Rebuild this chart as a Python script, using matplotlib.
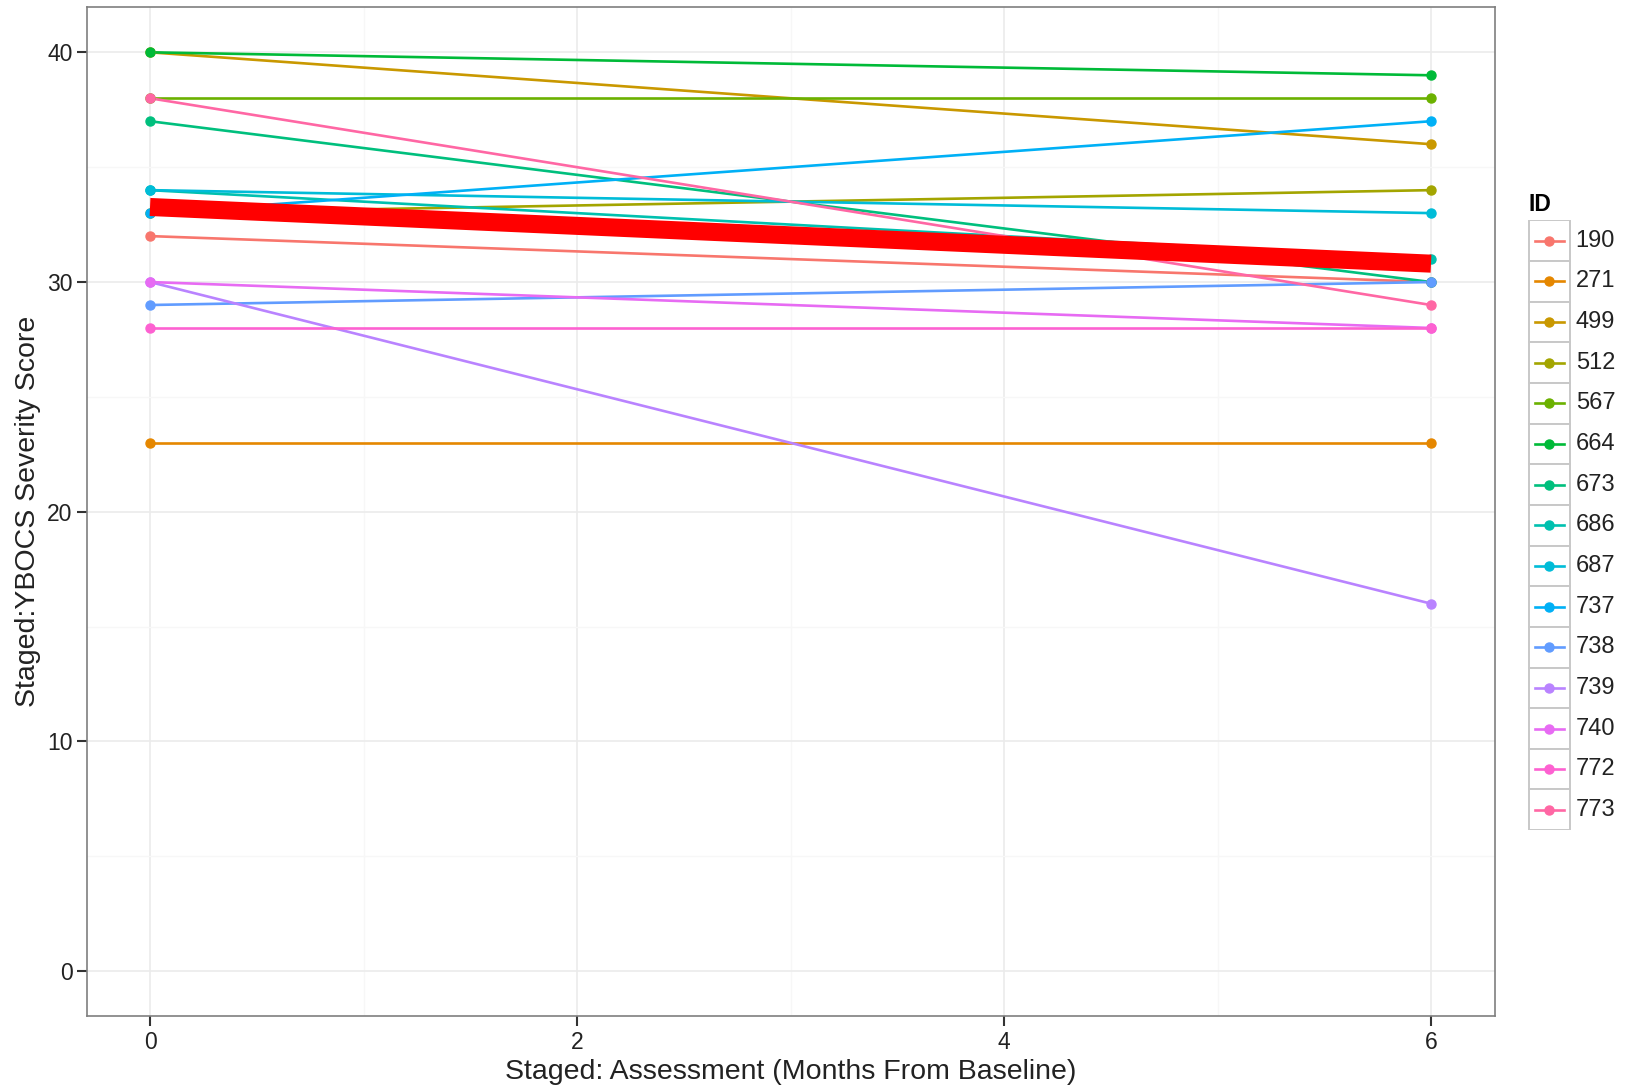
import numpy as np
import matplotlib.pyplot as plt
from matplotlib.lines import Line2D
from matplotlib.patches import Rectangle

plt.rcParams['font.family'] = ['Liberation Sans', 'DejaVu Sans']

# subjects and their scores at baseline (0) and 6 months
ids = ['190', '271', '499', '512', '567', '664', '673', '686', '687',
       '737', '738', '739', '740', '772', '773']
months = [0, 6]
score_0 = [32, 23, 40, 33, 38, 40, 37, 34, 34, 33, 29, 30, 30, 28, 38]
score_6 = [30, 23, 36, 34, 38, 39, 30, 31, 33, 37, 30, 16, 28, 28, 29]

# ggplot hue palette for 15 groups
colors = ['#F8766D', '#E58700', '#C99800', '#A3A500', '#6BB100',
          '#00BA38', '#00BF7D', '#00C0AF', '#00BCD8', '#00B0F6',
          '#619CFF', '#B983FF', '#E76BF3', '#FD61D1', '#FF67A4']

fig = plt.figure(figsize=(16.27, 10.87), dpi=100)
ax = fig.add_axes([0.0535, 0.0653, 0.8654, 0.928])

# lines first, then points (like geom_line + geom_point)
for i in range(len(ids)):
    ax.plot(months, [score_0[i], score_6[i]], color=colors[i], lw=1.9,
            zorder=3)
for i in range(len(ids)):
    ax.plot(months, [score_0[i], score_6[i]], 'o', color=colors[i], ms=6.5,
            zorder=4)

# thick red line through group means
mean_line = [np.mean(score_0), np.mean(score_6)]
ax.plot(months, mean_line, color='#FF0000', lw=13, solid_capstyle='butt',
        zorder=5)

ax.set_xlim(-0.295, 6.3)
ax.set_ylim(-1.95, 41.96)
ax.set_xticks([0, 2, 4, 6])
ax.set_yticks([0, 10, 20, 30, 40])
ax.set_xticks([1, 3, 5], minor=True)
ax.set_yticks([5, 15, 25, 35], minor=True)
ax.grid(which='major', color='#EBEBEB', lw=1.2, zorder=0)
ax.grid(which='minor', color='#F7F7F7', lw=1.0, zorder=0)
ax.tick_params(which='major', length=7, width=1.5, color='#333333',
               labelsize=16.5, labelcolor='#222222', direction='out')
ax.tick_params(which='minor', length=0)
for s in ax.spines.values():
    s.set_color('#7F7F7F')
    s.set_linewidth(1.2)

ax.set_xlabel('Staged: Assessment (Months From Baseline)', fontsize=20.5,
              color='#222222', labelpad=4)
ax.set_ylabel('Staged:YBOCS Severity Score', fontsize=20.5, color='#222222',
              labelpad=4)

# legend built like ggplot's keys
lax = fig.add_axes([0.9385, 0.2363, 0.06, 0.561])
n = len(ids)
lax.set_xlim(0, 1)
lax.set_ylim(n, 0)
lax.axis('off')
for i in range(n):
    lax.add_patch(Rectangle((0.02, i), 0.42, 1, facecolor='white',
                            edgecolor='#C8C8C8', lw=1.4))
    lax.add_line(Line2D([0.08, 0.38], [i + 0.5, i + 0.5], color=colors[i],
                        lw=1.9))
    lax.plot(0.23, i + 0.5, 'o', color=colors[i], ms=6.5)
    lax.text(0.5, i + 0.5, ids[i], fontsize=17, va='center', ha='left',
             color='#222222')
fig.text(0.9395, 0.812, 'ID', fontsize=16.5, fontweight='bold', ha='left',
         va='center')

fig.savefig('out.png', dpi=100)
